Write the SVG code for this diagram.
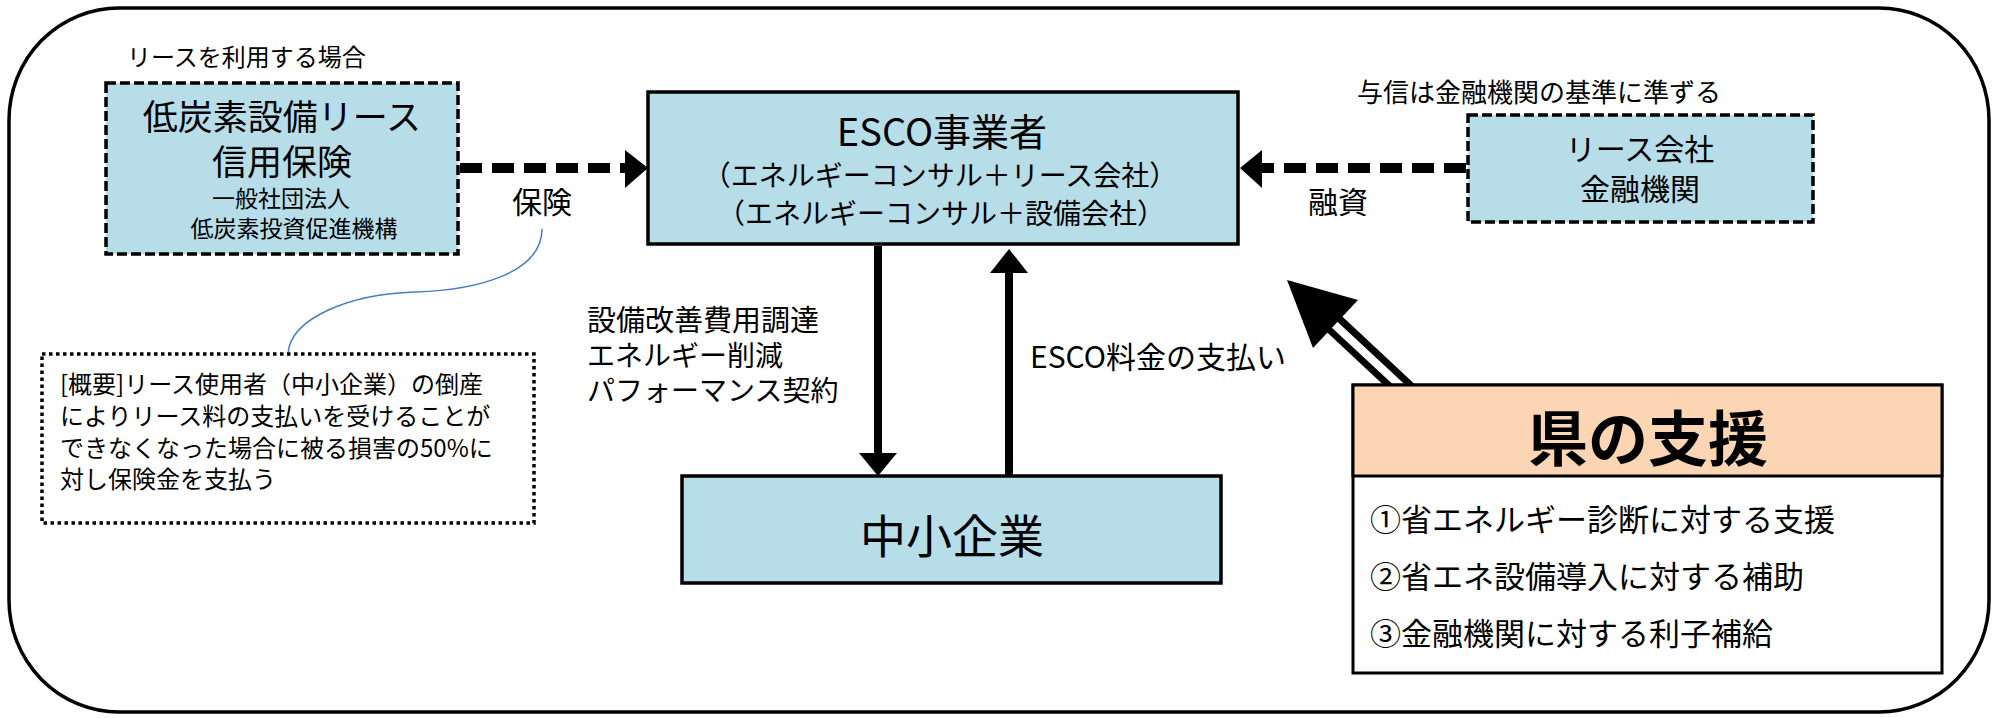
<svg xmlns="http://www.w3.org/2000/svg" width="2003" height="718" viewBox="0 0 2003 718">
<style>
text{font-family:"Noto Sans CJK JP","Noto Sans",sans-serif;fill:#000}
.box{fill:#b7dde8;stroke:#000;stroke-width:3.5}
.dbox{fill:#b7dde8;stroke:#000;stroke-width:3.5;stroke-dasharray:10 4}
.m{text-anchor:middle}
.dash{stroke:#000;stroke-width:10;stroke-dasharray:22 10;fill:none}
.solid{stroke:#000;stroke-width:8;fill:none}
</style>
<rect width="2003" height="718" fill="#fff"/>
<rect id="frame" x="9" y="8" width="1980" height="704" rx="110" ry="112" fill="#fff" stroke="#000" stroke-width="3.5"/>

<g id="connectors">
  <line class="dash" x1="460" y1="168" x2="626" y2="168"/>
  <polygon points="625,150 648,168 625,188"/>
  <line class="dash" x1="1466" y1="168" x2="1262" y2="168"/>
  <polygon points="1262,150 1240,168 1262,188"/>
  <line class="solid" x1="878" y1="246" x2="878" y2="456"/>
  <polygon points="859,453 897,453 878,476"/>
  <line class="solid" x1="1009" y1="476" x2="1009" y2="270"/>
  <polygon points="990,273 1028,273 1009,249"/>
  <line x1="1407" y1="392" x2="1330" y2="320" stroke="#000" stroke-width="22"/>
  <line x1="1407" y1="392" x2="1322" y2="313" stroke="#fff" stroke-width="8"/>
  <polygon points="1287,280 1358,300 1313,348"/>
  <path d="M542,229 C542,272 480,290 415,292 C350,294 290,318 288,354" fill="none" stroke="#4a7ebb" stroke-width="1.5"/>
  <text x="512" y="213" font-size="30">保険</text>
  <text x="1308" y="213" font-size="30">融資</text>
  <text x="587" y="331" font-size="29">設備改善費用調達</text>
  <text x="587" y="366" font-size="28">エネルギー削減</text>
  <text x="587" y="401" font-size="28">パフォーマンス契約</text>
  <text x="1030" y="368" font-size="30">ESCO料金の支払い</text>
</g>

<g id="lease-insurance">
  <text x="127" y="66" font-size="24">リースを利用する場合</text>
  <rect class="dbox" x="106" y="83" width="352" height="171"/>
  <text class="m" x="282" y="130" font-size="35">低炭素設備リース</text>
  <text class="m" x="282" y="175" font-size="35">信用保険</text>
  <text class="m" x="281" y="207" font-size="23">一般社団法人</text>
  <text class="m" x="294" y="237" font-size="23">低炭素投資促進機構</text>
</g>

<g id="summary">
  <rect x="42" y="354" width="492" height="169" fill="#fff" stroke="#000" stroke-width="3.5" stroke-dasharray="3.5 3.5"/>
  <text x="60" y="393" font-size="24">[概要]リース使用者（中小企業）の倒産</text>
  <text x="60" y="425" font-size="24">によりリース料の支払いを受けることが</text>
  <text x="60" y="457" font-size="24">できなくなった場合に被る損害の50%に</text>
  <text x="60" y="488" font-size="24">対し保険金を支払う</text>
</g>

<g id="esco">
  <rect class="box" x="648" y="92" width="590" height="152"/>
  <text class="m" x="942" y="146" font-size="38">ESCO事業者</text>
  <text class="m" x="940" y="186" font-size="28">（エネルギーコンサル＋リース会社）</text>
  <text class="m" x="941" y="224" font-size="28">（エネルギーコンサル＋設備会社）</text>
</g>

<g id="lender">
  <text x="1357" y="102" font-size="26">与信は金融機関の基準に準ずる</text>
  <rect class="dbox" x="1468" y="115" width="345" height="107"/>
  <text class="m" x="1640" y="160" font-size="30">リース会社</text>
  <text class="m" x="1640" y="200" font-size="30">金融機関</text>
</g>

<g id="sme">
  <rect class="box" x="682" y="476" width="539" height="107"/>
  <text class="m" x="952" y="553" font-size="46">中小企業</text>
</g>

<g id="prefecture">
  <rect x="1353" y="385" width="589" height="288" fill="#fff" stroke="#000" stroke-width="3"/>
  <rect x="1353" y="385" width="589" height="91" fill="#fcd5b5" stroke="#000" stroke-width="3"/>
  <text class="m" x="1648" y="461" font-size="60" font-weight="bold">県の支援</text>
  <text x="1370" y="531" font-size="31">①省エネルギー診断に対する支援</text>
  <text x="1370" y="588" font-size="31">②省エネ設備導入に対する補助</text>
  <text x="1370" y="645" font-size="31">③金融機関に対する利子補給</text>
</g>
</svg>
